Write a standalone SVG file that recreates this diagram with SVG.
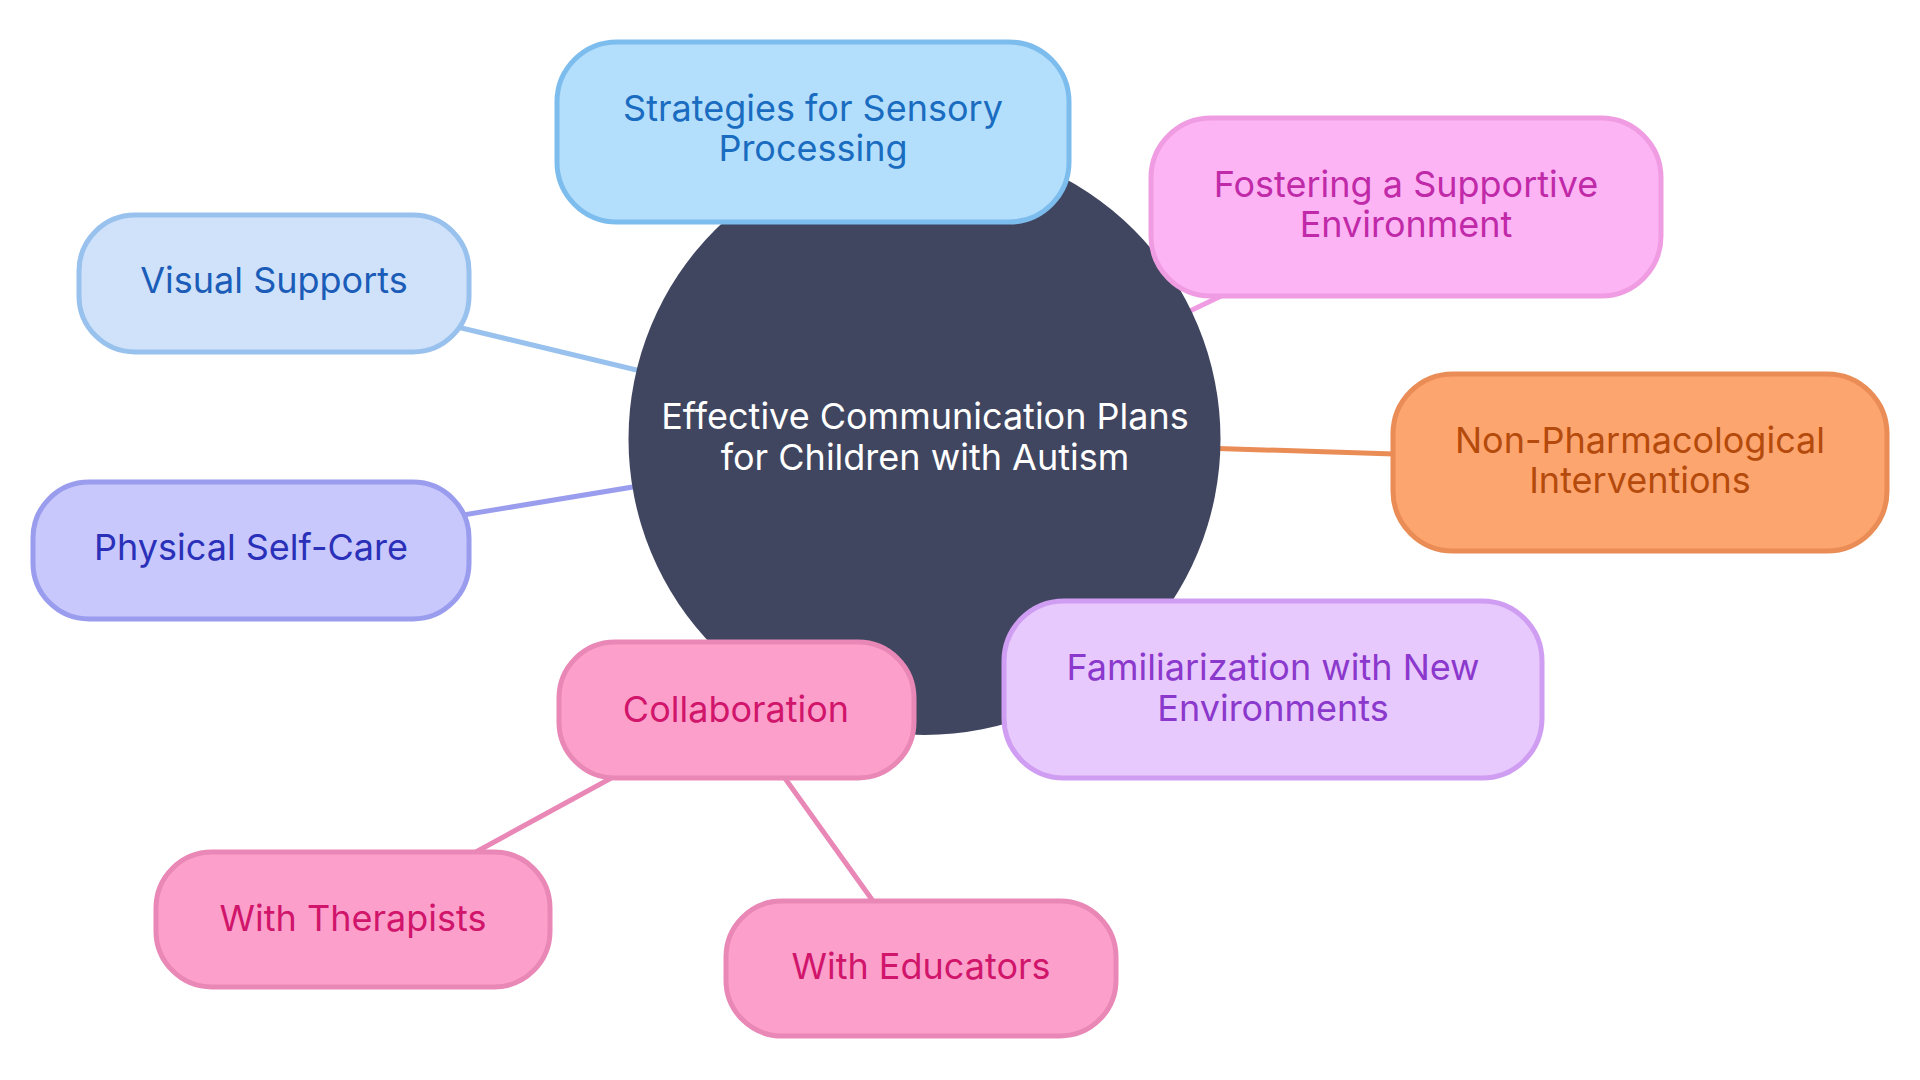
<svg xmlns="http://www.w3.org/2000/svg" width="1920" height="1080" viewBox="0 0 1920 1080">
<style>
text{font-family:Inter,"Noto Sans","DejaVu Sans",sans-serif;font-size:36px;text-anchor:middle}
.edge{fill:none;stroke-width:5;stroke-linecap:round}
.box{stroke-width:5}
</style>
<rect width="1920" height="1080" fill="#ffffff"/>
<g id="connectors">
<line class="edge" x1="924" y1="439" x2="813" y2="132" stroke="#7dbdee"/>
<line class="edge" x1="924" y1="439" x2="274" y2="283" stroke="#98c1ee"/>
<line class="edge" x1="924" y1="439" x2="251" y2="550" stroke="#9a9cee"/>
<line class="edge" x1="924" y1="439" x2="1406" y2="207" stroke="#f09ce3"/>
<line class="edge" x1="924" y1="439" x2="1640" y2="462" stroke="#ea8c56"/>
<line class="edge" x1="924" y1="439" x2="1273" y2="689" stroke="#cf9ef2"/>
<line class="edge" x1="924" y1="439" x2="736" y2="710" stroke="#e987b6"/>
<line class="edge" x1="736" y1="710" x2="353" y2="919" stroke="#e987b6"/>
<line class="edge" x1="736" y1="710" x2="921" y2="968" stroke="#e987b6"/>
</g>
<g id="root">
<circle cx="924.5" cy="439" r="296" fill="#404560"/>
<text fill="#ffffff"><tspan x="925" y="429">Effective Communication Plans</tspan><tspan x="925" y="470">for Children with Autism</tspan></text>
</g>
<g id="strategies">
<rect class="box" x="557" y="42" width="512" height="180" rx="60" fill="#b4dffc" stroke="#7dbdee"/>
<text fill="#1a6cc0"><tspan x="813" y="121">Strategies for Sensory</tspan><tspan x="813" y="161">Processing</tspan></text>
</g>
<g id="visual">
<rect class="box" x="79" y="215" width="390" height="137" rx="56" fill="#cfe2fa" stroke="#98c1ee"/>
<text x="274" y="293" fill="#1a5cb8">Visual Supports</text>
</g>
<g id="physical">
<rect class="box" x="33" y="482" width="436" height="137" rx="56" fill="#c8c8fc" stroke="#9a9cee"/>
<text x="251" y="560" fill="#2a30b8">Physical Self-Care</text>
</g>
<g id="fostering">
<rect class="box" x="1151" y="118" width="510" height="178" rx="60" fill="#fdb4f4" stroke="#f09ce3"/>
<text fill="#c02aa8"><tspan x="1406" y="197">Fostering a Supportive</tspan><tspan x="1406" y="237">Environment</tspan></text>
</g>
<g id="nonpharma">
<rect class="box" x="1393" y="374" width="494" height="177" rx="60" fill="#fda56e" stroke="#ea8c56"/>
<text fill="#b44a0c"><tspan x="1640" y="453">Non-Pharmacological</tspan><tspan x="1640" y="493">Interventions</tspan></text>
</g>
<g id="familiarization">
<rect class="box" x="1004" y="601" width="538" height="177" rx="60" fill="#e8c9fd" stroke="#cf9ef2"/>
<text fill="#8b38cc"><tspan x="1273" y="680">Familiarization with New</tspan><tspan x="1273" y="721">Environments</tspan></text>
</g>
<g id="collaboration">
<rect class="box" x="559" y="642" width="355" height="136" rx="56" fill="#fca0cb" stroke="#e987b6"/>
<text x="736" y="722" fill="#d0156b">Collaboration</text>
</g>
<g id="therapists">
<rect class="box" x="156" y="852" width="394" height="135" rx="56" fill="#fca0cb" stroke="#e987b6"/>
<text x="353" y="931" fill="#d0156b">With Therapists</text>
</g>
<g id="educators">
<rect class="box" x="726" y="901" width="390" height="135" rx="56" fill="#fca0cb" stroke="#e987b6"/>
<text x="921" y="979" fill="#d0156b">With Educators</text>
</g>
</svg>
